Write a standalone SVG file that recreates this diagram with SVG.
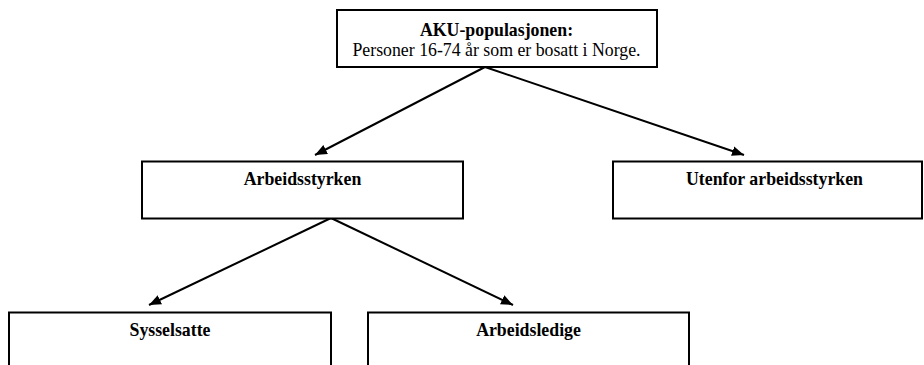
<svg xmlns="http://www.w3.org/2000/svg" width="924" height="365" viewBox="0 0 924 365">
<style>
.box{fill:#fff;stroke:#000;stroke-width:2}
.t{font-family:"Liberation Serif","Times New Roman",serif;font-size:17.8px;fill:#000;text-anchor:middle}
.b{font-weight:bold}
.c{stroke:#000;stroke-width:2;fill:none;marker-end:url(#ah)}
</style>
<defs>
<marker id="ah" markerUnits="userSpaceOnUse" markerWidth="13" markerHeight="11" refX="12" refY="5" orient="auto">
<path d="M0,0 L12,5 L0,10 Z" fill="#000"/>
</marker>
</defs>
<rect width="924" height="365" fill="#fff"/>
<g id="connectors">
<line class="c" x1="485" y1="67" x2="315" y2="155"/>
<line class="c" x1="485" y1="67" x2="744" y2="155"/>
<line class="c" x1="331" y1="218" x2="149" y2="305"/>
<line class="c" x1="331" y1="218" x2="513" y2="305"/>
</g>
<g id="aku">
<rect class="box" x="337" y="10" width="320" height="57"/>
<text class="t b" x="496.5" y="35.5">AKU-populasjonen:</text>
<text class="t" x="496.5" y="55.5">Personer 16-74 år som er bosatt i Norge.</text>
</g>
<g id="arbeidsstyrken">
<rect class="box" x="142" y="161.5" width="321" height="57"/>
<text class="t b" x="302.5" y="184.5">Arbeidsstyrken</text>
</g>
<g id="utenfor">
<rect class="box" x="613" y="161.5" width="309" height="57"/>
<text class="t b" x="774.5" y="184.5">Utenfor arbeidsstyrken</text>
</g>
<g id="sysselsatte">
<rect class="box" x="9" y="312.5" width="322" height="70"/>
<text class="t b" x="170" y="336">Sysselsatte</text>
</g>
<g id="arbeidsledige">
<rect class="box" x="368" y="312.5" width="321" height="70"/>
<text class="t b" x="528.5" y="336">Arbeidsledige</text>
</g>
</svg>
